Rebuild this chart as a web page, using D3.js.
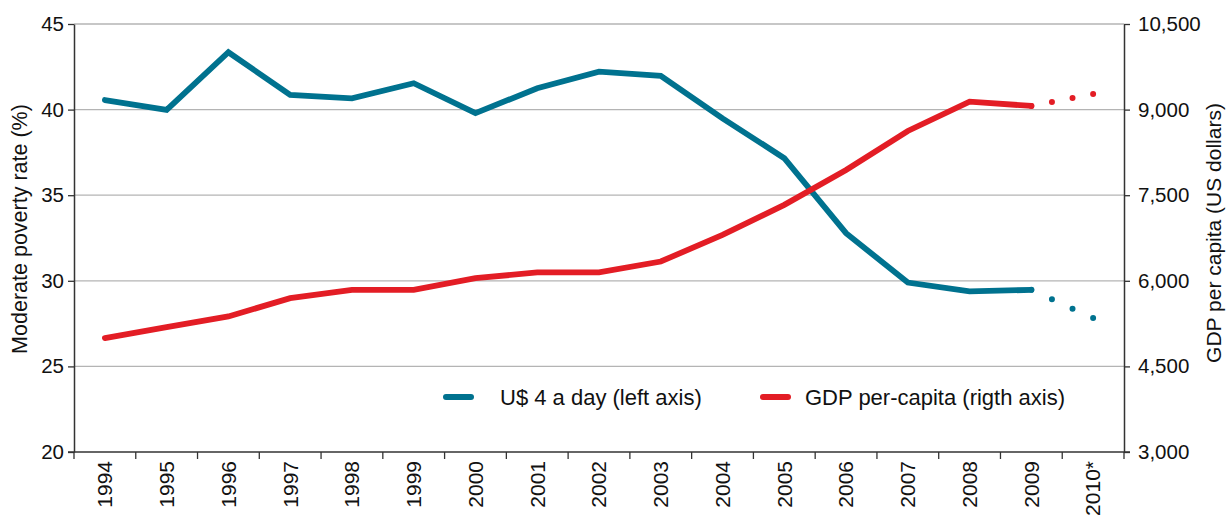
<!DOCTYPE html>
<html>
<head>
<meta charset="utf-8">
<script src="https://cdn.jsdelivr.net/npm/d3@7"></script>
<style>
  html, body { margin: 0; padding: 0; background: #fff; }
  svg { display: block; font-family: "Liberation Sans", Arial, Helvetica, sans-serif; }
</style>
</head>
<body>
<svg id="chart" width="1227" height="516"></svg>
<script>
// ---- data ----
const categories = ["1994","1995","1996","1997","1998","1999","2000","2001","2002","2003","2004","2005","2006","2007","2008","2009","2010*"];
const povertyValues = [40.56, 39.98, 43.35, 40.86, 40.66, 41.54, 39.79, 41.25, 42.22, 41.97, 39.49, 37.16, 32.78, 29.90, 29.38, 29.47, 27.82];
const gdpValues = [4996, 5188, 5375, 5696, 5842, 5842, 6046, 6146, 6146, 6338, 6805, 7331, 7943, 8626, 9140, 9064, 9274];
const projectedFrom = "2009"; // values after this are projections (dotted)
const leftTicks = [20, 25, 30, 35, 40, 45];
const rightTicks = [3000, 4500, 6000, 7500, 9000, 10500];
const seriesNames = ["U$ 4 a day (left axis)", "GDP per-capita (rigth axis)"];
const leftTitle = "Moderate poverty rate (%)";
const rightTitle = "GDP per capita (US dollars)";

(function () {
// ---- layout ----
const mLeft = 74, mRight = 1124, mTop = 24, mBottom = 452;
const teal = "#00728F", red = "#E31D25";
const svg = d3.select("#chart");

const x = d3.scaleBand().domain(categories).range([mLeft, mRight]).padding(0);
const cx = c => x(c) + x.bandwidth() / 2;
const yL = d3.scaleLinear().domain([20, 45]).range([mBottom, mTop]);
const yR = d3.scaleLinear().domain([3000, 10500]).range([mBottom, mTop]);

// gridlines
svg.append("g").selectAll("line").data(leftTicks.slice(1)).join("line")
  .attr("x1", mLeft).attr("x2", mRight)
  .attr("y1", d => yL(d)).attr("y2", d => yL(d))
  .attr("stroke", "#b4b4b4").attr("stroke-width", 1.3);

// left axis
const gl = svg.append("g").attr("transform", `translate(${mLeft},0)`)
  .call(d3.axisLeft(yL).tickValues(leftTicks).tickSize(6).tickPadding(4).tickSizeOuter(0));
gl.select(".domain").attr("stroke", "#333").attr("stroke-width", 1.5);
gl.selectAll(".tick line").attr("stroke", "#333").attr("stroke-width", 1.3);
gl.selectAll(".tick text").attr("font-size", 20.5).attr("fill", "#111");
gl.attr("font-family", null).attr("font-size", null);

// right axis
const gr = svg.append("g").attr("transform", `translate(${mRight},0)`)
  .call(d3.axisRight(yR).tickValues(rightTicks).tickFormat(d3.format(",")).tickSize(6).tickPadding(8).tickSizeOuter(0));
gr.select(".domain").attr("stroke", "#333").attr("stroke-width", 1.5);
gr.selectAll(".tick line").attr("stroke", "#333").attr("stroke-width", 1.3);
gr.selectAll(".tick text").attr("font-size", 20.5).attr("fill", "#111");
gr.attr("font-family", null).attr("font-size", null);

// bottom axis: baseline, ticks at band boundaries, rotated labels
const gb = svg.append("g");
gb.append("line").attr("x1", mLeft - 6).attr("x2", mRight + 6).attr("y1", mBottom).attr("y2", mBottom)
  .attr("stroke", "#333").attr("stroke-width", 1.5);
gb.selectAll("line.tk").data(categories.slice(1).concat([null])).join("line").attr("class", "tk")
  .attr("x1", d => d === null ? mRight : x(d)).attr("x2", d => d === null ? mRight : x(d))
  .attr("y1", mBottom).attr("y2", mBottom + 7)
  .attr("stroke", "#333").attr("stroke-width", 1.3);
gb.append("line").attr("x1", mLeft).attr("x2", mLeft).attr("y1", mBottom).attr("y2", mBottom + 7)
  .attr("stroke", "#333").attr("stroke-width", 1.3);
gb.selectAll("text").data(categories).join("text")
  .attr("transform", d => `translate(${cx(d)},${mBottom + 9}) rotate(-90)`)
  .attr("text-anchor", "end").attr("dy", "0.35em")
  .attr("font-size", 21).attr("fill", "#111")
  .text(d => d);

// axis titles
svg.append("text").attr("transform", `translate(27,229) rotate(-90)`)
  .attr("text-anchor", "middle").attr("font-size", 21.5).attr("fill", "#111").text(leftTitle);
svg.append("text").attr("transform", `translate(1221,233) rotate(-90)`)
  .attr("text-anchor", "middle").attr("font-size", 21).attr("fill", "#111").text(rightTitle);

// lines
const split = categories.indexOf(projectedFrom);
function drawSeries(values, scale, color) {
  const pts = categories.map((c, i) => ({ c, v: values[i], i }));
  const line = d3.line().x(d => cx(d.c)).y(d => scale(d.v));
  svg.append("path").datum(pts.filter(d => d.i <= split))
    .attr("d", line).attr("fill", "none").attr("stroke", color)
    .attr("stroke-width", 5.8).attr("stroke-linecap", "round");
  const proj = svg.append("path").datum(pts.filter(d => d.i >= split))
    .attr("d", line).attr("fill", "none").attr("stroke", color)
    .attr("stroke-width", 6).attr("stroke-linecap", "round");
  const L = proj.node().getTotalLength();
  proj.attr("stroke-dasharray", `0 ${L / 3 - 0.001}`);
}
drawSeries(povertyValues, yL, teal);
drawSeries(gdpValues, yR, red);

// legend
const legend = [
  { name: seriesNames[0], color: teal, x: 443, tx: 500 },
  { name: seriesNames[1], color: red, x: 760, tx: 805 }
];
const lg = svg.append("g");
lg.selectAll("line").data(legend).join("line")
  .attr("x1", d => d.x + 3).attr("x2", d => d.x + 28).attr("y1", 397).attr("y2", 397)
  .attr("stroke", d => d.color).attr("stroke-width", 6).attr("stroke-linecap", "round");
lg.selectAll("text").data(legend).join("text")
  .attr("x", d => d.tx).attr("y", 397).attr("dy", "0.35em")
  .attr("font-size", 22).attr("fill", "#111").text(d => d.name);
})();
</script>
</body>
</html>
